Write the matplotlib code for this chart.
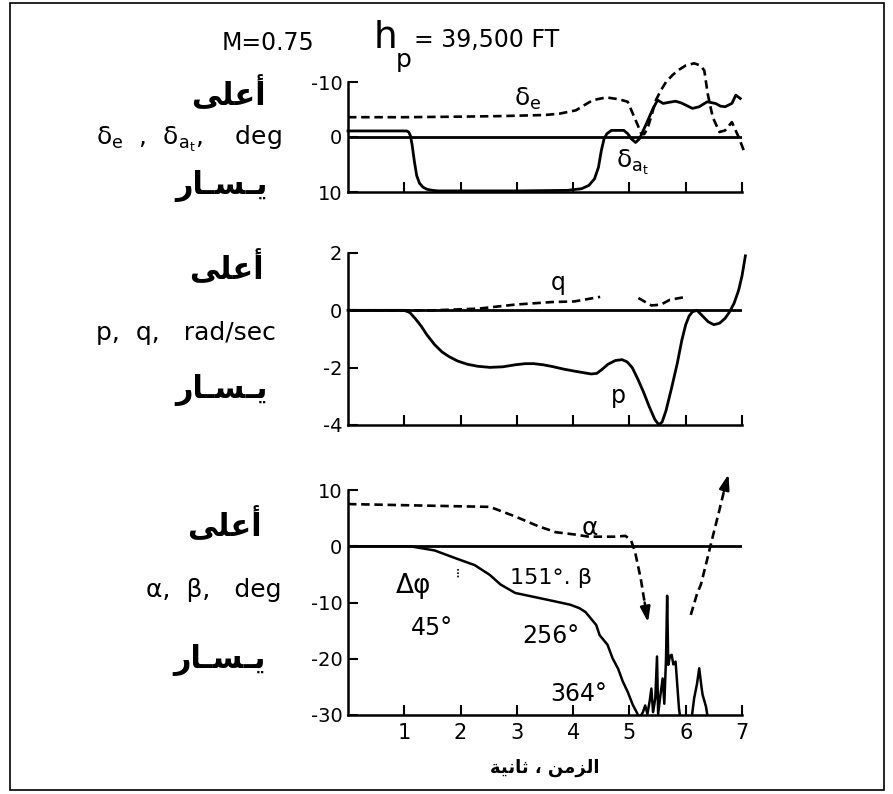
import matplotlib
matplotlib.use("Agg")
import matplotlib.pyplot as plt
from matplotlib.patches import Rectangle
import numpy as np

plt.rcParams["font.family"] = ["DejaVu Sans"]
plt.rcParams["axes.unicode_minus"] = False
plt.rcParams["mathtext.fontset"] = "dejavusans"

W, H = 893, 794

# --- top panel: delta_e (dashed) and delta_at (solid), deg, up is negative
de_t = [0, 1.0, 2.0, 2.7, 3.5, 3.76, 4.05, 4.2, 4.35, 4.59, 4.82, 4.97, 5.06, 5.15, 5.2, 5.26, 5.32,
        5.4, 5.47, 5.56, 5.65, 5.76, 5.86, 6.0, 6.15, 6.26, 6.33, 6.39, 6.48, 6.6, 6.7, 6.82, 6.94, 7.03]
de_v = [-3.6, -3.6, -3.7, -3.8, -4.0, -4.25, -4.85, -5.8, -6.7, -7.2, -6.85, -6.4, -4.25, -2.1, -0.8, -0.5, -1.5,
        -4.2, -6.7, -8.5, -10.0, -11.2, -12.1, -13.0, -13.4, -13.0, -12.1, -7.9, -3.6, -0.9, -1.2, -2.7, 0.0, 2.4]

dat_t = [0, 1.04, 1.08, 1.11, 1.14, 1.18, 1.22, 1.27, 1.33, 1.4, 1.5, 1.6, 2.0, 3.0, 3.9, 4.15,
         4.28, 4.38, 4.45, 4.5, 4.55, 4.6, 4.68, 4.9, 4.97, 5.04, 5.11, 5.18, 5.3, 5.42, 5.5, 5.6,
         5.7, 5.82, 5.92, 6.0, 6.12, 6.24, 6.38, 6.53, 6.62, 6.7, 6.76, 6.82, 6.89, 6.97]
dat_v = [-1.1, -1.1, -0.9, -0.2, 1.5, 4.5, 7.0, 8.4, 9.1, 9.5, 9.7, 9.8, 9.8, 9.8, 9.7, 9.4,
         8.8, 7.6, 5.5, 2.5, 0.3, -0.6, -1.2, -1.2, -0.6, 0.4, 1.0, 0.3, -2.4, -5.2, -6.7, -6.1,
         -6.3, -6.5, -6.2, -5.8, -5.2, -5.5, -6.4, -6.1, -5.6, -5.5, -5.8, -6.1, -7.6, -7.0]

# --- middle panel: p (solid) and q (dashed), rad/sec
p_t = [0, 1.0, 1.1, 1.2, 1.3, 1.4, 1.54, 1.67, 1.8, 1.95, 2.12, 2.3, 2.52, 2.75, 2.97, 3.15,
       3.3, 3.47, 3.63, 3.83, 4.02, 4.2, 4.32, 4.42, 4.52, 4.62, 4.75, 4.87, 4.96, 5.05, 5.15,
       5.25, 5.35, 5.45, 5.52, 5.58, 5.65, 5.75, 5.85, 5.93, 6.0, 6.06, 6.12, 6.2, 6.3, 6.4,
       6.5, 6.6, 6.7, 6.78, 6.86, 6.94, 7.0, 7.06]
p_v = [0, 0, -0.08, -0.3, -0.55, -0.85, -1.2, -1.45, -1.62, -1.77, -1.88, -1.95, -1.99, -1.97, -1.9, -1.86,
       -1.86, -1.9, -1.96, -2.05, -2.12, -2.18, -2.22, -2.2, -2.05, -1.88, -1.75, -1.72, -1.8, -2.0, -2.4,
       -2.85, -3.35, -3.8, -3.99, -3.9, -3.5, -2.7, -1.85, -1.05, -0.5, -0.2, -0.05, 0.0, -0.2, -0.4,
       -0.5, -0.45, -0.28, -0.05, 0.25, 0.7, 1.2, 1.9]

q_t = [0, 1.5, 2.32, 2.97, 3.63, 4.02, 4.48, np.nan, 5.16, 5.3, 5.39, 5.56, 5.72, 5.95]
q_v = [0, 0.0, 0.06, 0.2, 0.29, 0.31, 0.47, np.nan, 0.43, 0.27, 0.17, 0.2, 0.37, 0.45]

# --- bottom panel: alpha (dashed, two arrows) and beta (solid), deg
a1_t = [0, 0.5, 1.0, 1.5, 2.0, 2.52, 2.97, 3.37, 3.69, 4.02, 4.28, 4.74, 4.93, 5.03, 5.1, 5.2, 5.27]
a1_v = [7.5, 7.4, 7.3, 7.2, 7.1, 7.0, 5.3, 3.6, 2.5, 2.1, 1.7, 1.7, 1.85, 1.0, -1.0, -5.7, -10.0]
a1_tip = (5.33, -13.5)

a2_t = [6.09, 6.2, 6.27, 6.37, 6.47, 6.6, 6.68]
a2_v = [-12.2, -8.5, -6.8, -2.8, 1.3, 6.5, 9.8]
a2_tip = (6.76, 12.8)

b_t = [0, 1.1, 1.54, 1.93, 2.25, 2.52, 2.71, 2.97, 3.3, 3.63, 3.95, 4.11, 4.22, 4.41, 4.47,
       4.61, 4.70, 4.8, 4.88, 4.97, 5.06, 5.18, 5.24, 5.28, 5.32, 5.36, 5.39, 5.42, 5.46,
       5.49, 5.51, 5.55, 5.59, 5.62, 5.65, 5.67, 5.69, 5.72, 5.75, 5.78, 5.82, 5.88, 5.91,
       6.1, 6.15, 6.2, 6.24, 6.28, 6.3, 6.36, 6.4, 7.0]
b_v = [0, 0, -0.75, -2.2, -3.35, -5.1, -6.8, -8.3, -9.0, -9.7, -10.4, -11.0, -11.7, -14.0, -15.8,
       -17.5, -19.9, -21.8, -24.0, -25.9, -28.2, -30.5, -29.5, -28.3, -29.8, -27.5, -25.3, -29.5, -27.0,
       -19.6, -29.8, -26.5, -23.5, -28.0, -20.0, -8.8, -21.1, -19.5, -19.3, -21.0, -20.5, -28.8, -31.0,
       -31.0, -27.0, -24.5, -21.7, -25.0, -26.4, -28.5, -31.0, -31.0]

x_ticks = [1, 2, 3, 4, 5, 6, 7]

# Arabic labels, written in presentation forms, left-to-right visual order
ar_up = "\uFEF0\uFEE0\uFECB\uFE83"                       # أعلى
ar_left = "\uFEAD\uFE8E\u0640\uFEB4\u0640\uFEF3"         # يسار
ar_time = "\uFE94\uFEF4\uFEE7\uFE8E\uFE9B \u060C \uFEE6\uFEE3\uFEB0\uFEDF\uFE8D"  # الزمن ، ثانية


def fx(x):
    return x / W


def fy(y):
    return 1 - y / H


def make_axes(top, bottom):
    left, right = 348, 742
    ax = fig.add_axes([fx(left), fy(bottom), (right - left) / W, (bottom - top) / H])
    ax.set_facecolor("none")
    for s in ["top", "right"]:
        ax.spines[s].set_visible(False)
    for s in ["left", "bottom"]:
        ax.spines[s].set_linewidth(1.8)
    ax.set_xlim(0, 7)
    ax.set_xticks(x_ticks)
    ax.tick_params(direction="in", length=7, width=1.5, labelsize=14, pad=4)
    ax.axhline(0, color="k", lw=2.0, zorder=1)
    return ax


fig = plt.figure(figsize=(W / 100, H / 100), dpi=100)
fig.patches.append(Rectangle((fx(10), fy(790)), (884 - 10) / W, (790 - 3) / H,
                             transform=fig.transFigure, fill=False, lw=1.2, color="k"))

solid = dict(color="k", lw=2.0)
dashed = dict(color="k", lw=1.9, linestyle=(0, (3.2, 1.8)))

# top
ax1 = make_axes(82, 192)
ax1.set_ylim(10, -10)
ax1.set_yticks([-10, 0, 10])
ax1.tick_params(axis="x", labelbottom=False)
ax1.plot(de_t, de_v, clip_on=False, **dashed)
ax1.plot(dat_t, dat_v, clip_on=False, **solid)
ax1.text(3.2, -6.9, r"δ$_\mathrm{e}$", fontsize=18, ha="center", va="center")
ax1.text(5.05, 4.7, r"δ$_{\mathrm{a}_\mathrm{t}}$", fontsize=18, ha="center", va="center")

# middle
ax2 = make_axes(253, 425)
ax2.set_ylim(-4, 2)
ax2.set_yticks([2, 0, -2, -4])
ax2.tick_params(axis="x", labelbottom=False)
ax2.plot(p_t, p_v, clip_on=False, **solid)
ax2.plot(q_t, q_v, **dashed)
ax2.text(3.73, 0.94, "q", fontsize=17, ha="center", va="center")
ax2.text(4.8, -3.0, "p", fontsize=17, ha="center", va="center")

# bottom
ax3 = make_axes(490, 715)
ax3.set_ylim(-30, 10)
ax3.set_yticks([10, 0, -10, -20, -30])
ax3.tick_params(axis="x", labelsize=15, pad=6)
ax3.plot(b_t, b_v, lw=1.8, color="k")
ax3.plot(a1_t, a1_v, **dashed)
ax3.plot(a2_t, a2_v, clip_on=False, **dashed)
arrow = dict(arrowstyle="-|>,head_length=0.9,head_width=0.3", color="k", lw=1.8, shrinkA=0, shrinkB=0)
ax3.annotate("", xy=a1_tip, xytext=(a1_t[-1], a1_v[-1]), arrowprops=arrow)
ax3.annotate("", xy=a2_tip, xytext=(a2_t[-1], a2_v[-1]), arrowprops=arrow, annotation_clip=False)
ax3.plot([1.96, 1.96], [-4.0, -5.6], color="k", lw=1.2, linestyle=(0, (1, 1)))
ax3.text(4.3, 3.3, "α", fontsize=18, ha="center", va="center")
ax3.text(1.17, -7.1, "Δφ", fontsize=19, ha="center", va="center")
ax3.text(1.5, -14.5, "45°", fontsize=17, ha="center", va="center")
ax3.text(3.6, -5.7, "151°. β", fontsize=16, ha="center", va="center")
ax3.text(3.6, -16.0, "256°", fontsize=17, ha="center", va="center")
ax3.text(4.1, -26.3, "364°", fontsize=17, ha="center", va="center")
fig.text(fx(545), fy(768), ar_time, fontsize=13, fontweight="bold", ha="center", va="center")

# left side labels
arab = dict(fontsize=22, fontweight="bold", ha="right", va="center")
lat = dict(fontsize=18, ha="right", va="center")
fig.text(fx(266), fy(94), ar_up, **arab)
fig.text(fx(282), fy(139), r"δ$_\mathrm{e}$  ,  δ$_{\mathrm{a}_\mathrm{t}}$,    deg", **lat)
fig.text(fx(268), fy(186), ar_left, **arab)

fig.text(fx(264), fy(268), ar_up, **arab)
fig.text(fx(276), fy(333), "p,  q,   rad/sec", **lat)
fig.text(fx(268), fy(390), ar_left, **arab)

fig.text(fx(262), fy(525), ar_up, **arab)
fig.text(fx(282), fy(590), "α,  β,   deg", **lat)
fig.text(fx(266), fy(660), ar_left, **arab)

# heading
fig.text(fx(222), fy(43), "M=0.75", fontsize=17, ha="left", va="center")
fig.text(fx(374), fy(38), "h", fontsize=27, ha="left", va="center")
fig.text(fx(396), fy(60), "p", fontsize=18, ha="left", va="center")
fig.text(fx(414), fy(40), "= 39,500 FT", fontsize=17, ha="left", va="center")

fig.savefig("out.png", dpi=100, facecolor="white")
